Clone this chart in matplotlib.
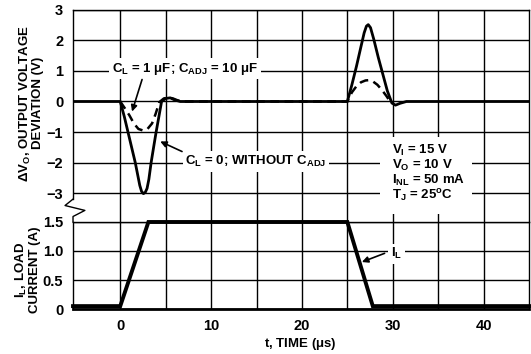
import matplotlib
matplotlib.use("Agg")
import matplotlib.pyplot as plt
from matplotlib.patches import Rectangle
from matplotlib.transforms import blended_transform_factory

# Fuente estilo hoja de datos (negrita)
plt.rcParams['font.family'] = ['Liberation Sans', 'DejaVu Sans']
plt.rcParams['font.weight'] = 'bold'
plt.rcParams['mathtext.fontset'] = 'custom'
plt.rcParams['mathtext.rm'] = 'Liberation Sans:bold'
plt.rcParams['mathtext.bf'] = 'Liberation Sans:bold'
plt.rcParams['mathtext.it'] = 'Liberation Sans:bold:italic'
plt.rcParams['mathtext.default'] = 'rm'

# Datos
# Desviacion de tension, C_L = 0 (sin C_ADJ)
t_sin_cadj = [-5.2, 0, 0.45, 0.85, 1.25, 1.65, 1.95, 2.15, 2.35, 2.55, 2.75, 2.95, 3.15, 3.4, 3.7, 3.95, 4.25, 4.55,
              5.0, 5.5, 6.0, 6.6, 25.0, 25.5, 26.0, 26.5, 26.85, 27.1, 27.3, 27.55, 27.9, 28.4, 28.9,
              29.4, 29.9, 30.3, 30.8, 31.5, 45.0]
v_sin_cadj = [0, 0, -0.5, -1.0, -1.5, -2.0, -2.45, -2.75, -2.95, -3.02, -2.98, -2.85, -2.55, -2.0, -1.45, -1.0, -0.5, 0.0,
              0.1, 0.12, 0.05, 0, 0, 0.55, 1.15, 1.8, 2.25, 2.47, 2.52, 2.42, 2.05, 1.45, 0.9,
              0.35, -0.05, -0.12, -0.06, 0, 0]

# Desviacion de tension, C_L = 1 uF; C_ADJ = 10 uF
t_con_cadj = [0, 0.5, 1.0, 1.5, 2.0, 2.5, 3.0, 3.5, 3.9, 4.3, 4.8, 5.3, 5.8, 6.3, 6.8,
              25.0, 25.5, 26.0, 26.5, 27.0, 27.4, 27.8, 28.3, 28.8, 29.3, 29.7]
v_con_cadj = [0, -0.22, -0.45, -0.72, -0.9, -0.95, -0.9, -0.72, -0.4, -0.02, 0.1, 0.13, 0.1, 0.04, 0,
              0, 0.3, 0.5, 0.63, 0.69, 0.7, 0.66, 0.55, 0.38, 0.18, 0]

# Corriente de carga
t_carga = [-5.2, 0.0, 3.1, 25.0, 27.8, 45.0]
i_carga = [0.05, 0.05, 1.5, 1.5, 0.05, 0.05]

ticks_x = [0, 5, 10, 15, 20, 25, 30, 35, 40]
etiquetas_x = ['0', '', '10', '', '20', '', '30', '', '40']
ticks_v = [-3, -2, -1, 0, 1, 2, 3]
ticks_i = [0, 0.5, 1.0, 1.5]
etiquetas_i = ['0', '0.5', '1.0', '1.5']

fig = plt.figure(figsize=(5.31, 3.54), dpi=100)
ax1 = fig.add_axes([0.1375, 0.3729, 0.8588, 0.5989])
ax2 = fig.add_axes([0.1375, 0.1271, 0.8588, 0.2458], sharex=ax1)

for ax in (ax1, ax2):
    ax.set_xlim(-5.2, 45)
    ax.set_xticks(ticks_x)
    ax.grid(True, color='black', linewidth=1.0)
    ax.tick_params(length=0, labelsize=10.5, pad=7)
    for s in ax.spines.values():
        s.set_linewidth(1.0)

# Panel superior
ax1.set_ylim(-3.95, 3)
ax1.set_yticks(ticks_v)
ax1.tick_params(axis='x', labelbottom=False)
ax1.spines['bottom'].set_visible(False)
ax1.spines['left'].set_bounds(-3.2, 3)
ax1.plot(t_sin_cadj, v_sin_cadj, color='black', linewidth=2.0, solid_joinstyle='round')
ax1.plot(t_con_cadj, v_con_cadj, color='black', linewidth=1.8, dashes=(3.5, 2.2))

# quiebre del eje
tr = blended_transform_factory(ax1.transAxes, ax1.transData)
ax1.plot([0, -0.0175, 0.026, 0, 0], [-3.2, -3.41, -3.57, -3.77, -3.95],
         color='black', linewidth=1.0, transform=tr, clip_on=False)

caja = dict(facecolor='white', edgecolor='none', pad=2)
flecha = dict(arrowstyle='-|>', color='black', lw=1.2, mutation_scale=9, shrinkA=0, shrinkB=0)
ax1.text(7.15, 1.08, r'C$_L$ = 1 $\mu$F; C$_{ADJ}$ = 10 $\mu$F', ha='center', va='center',
         fontsize=9.5, bbox=caja)
ax1.annotate('', xy=(1.3, -0.33), xytext=(2.4, 0.72), arrowprops=flecha)
ax1.text(14.95, -1.97, r'C$_L$ = 0; WITHOUT C$_{ADJ}$', ha='center', va='center',
         fontsize=9.5, bbox=caja)
ax1.annotate('', xy=(4.4, -1.31), xytext=(6.8, -1.64), arrowprops=flecha)

ax1.add_patch(Rectangle((28.6, -3.69), 10.1, 2.54, facecolor='white', edgecolor='none', zorder=2.5))
condiciones = [r'V$_I$ = 15 V', r'V$_O$ = 10 V', r'I$_{NL}$ = 50 mA', r'T$_J$ = 25$^o$C']
for k, txt in enumerate(condiciones):
    ax1.text(29.9, -1.62 - 0.49 * k, txt, ha='left', va='center', fontsize=9.5, zorder=3)

# Panel inferior
ax2.set_ylim(0, 1.5)
ax2.set_yticks(ticks_i)
ax2.set_yticklabels(etiquetas_i)
ax2.set_xticklabels(etiquetas_x)
ax2.spines['bottom'].set_linewidth(2.0)
ax2.plot(t_carga, i_carga, color='black', linewidth=2.8, clip_on=False, solid_joinstyle='miter')
ax2.text(30.4, 0.95, r'I$_L$', ha='center', va='center', fontsize=9.5, bbox=caja)
ax2.annotate('', xy=(26.6, 0.81), xytext=(29.1, 0.96), arrowprops=flecha)

# Etiquetas de ejes
fig.text(0.058, 0.709, 'ΔV$_O$, OUTPUT VOLTAGE\nDEVIATION (V)', rotation=90, ha='center', va='center',
         multialignment='center', fontsize=9.5, linespacing=0.95)
fig.text(0.052, 0.237, 'I$_L$, LOAD\nCURRENT (A)', rotation=90, ha='center', va='center',
         multialignment='center', fontsize=9.5, linespacing=0.95)
fig.text(300 / 531, 0.028, r't, TIME ($\mu$s)', ha='center', va='center', fontsize=9.5)

fig.savefig('out.png', dpi=100)
